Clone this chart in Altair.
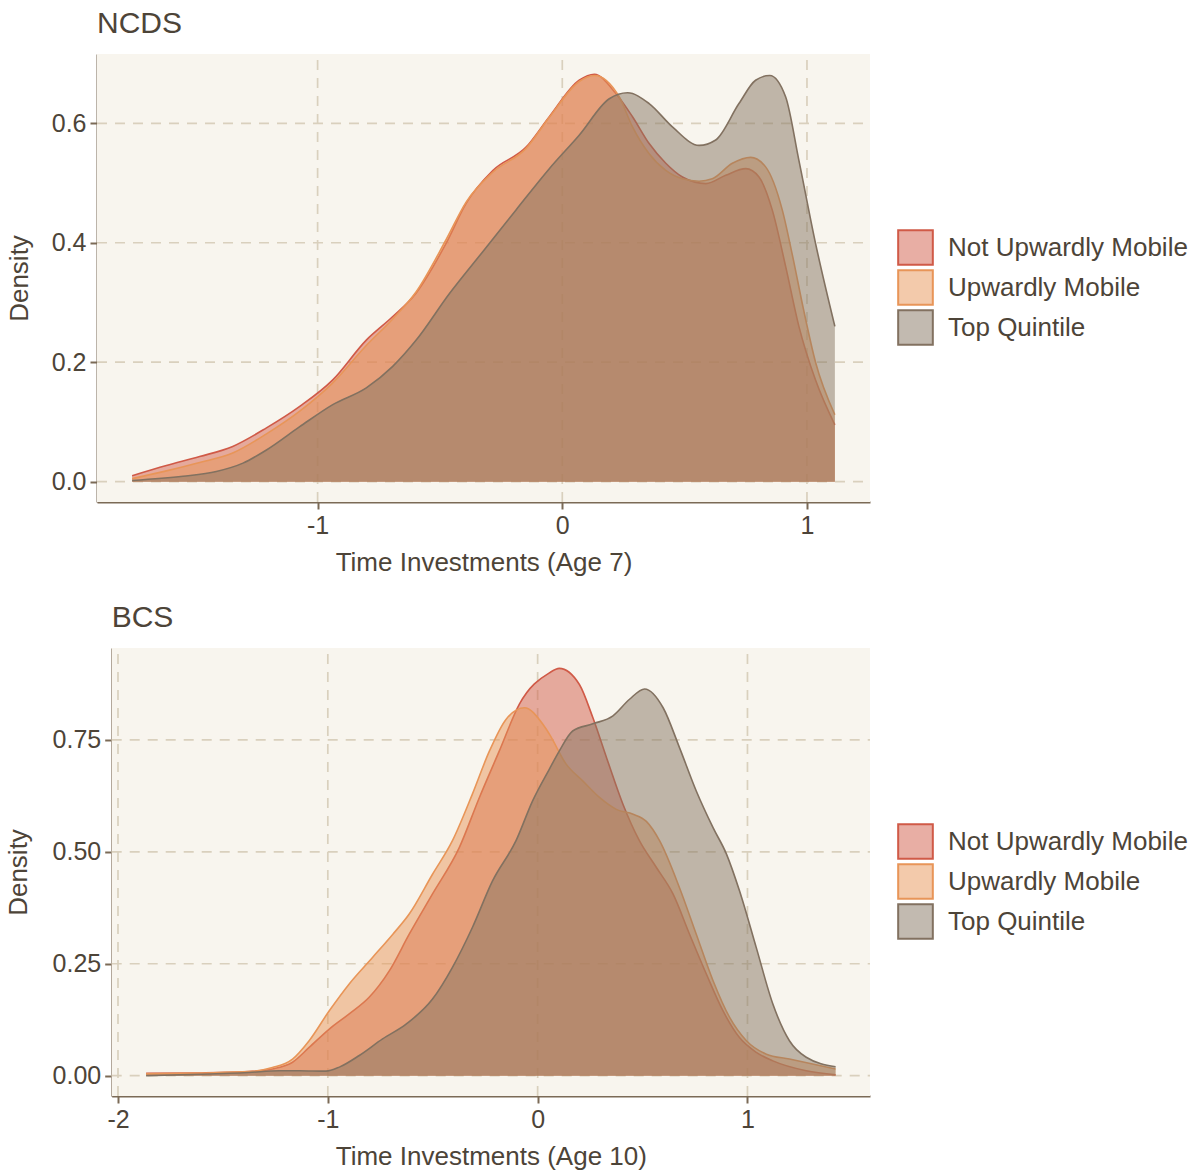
import altair as alt
import pandas as pd

# Group names and colours (fills are drawn at half opacity, outlines opaque)
GROUPS = ["Not Upwardly Mobile", "Upwardly Mobile", "Top Quintile"]
LINE_COLORS = ["#d05a47", "#e89558", "#827160"]
FILL_COLORS = ["rgba(210,93,74,0.5)", "rgba(232,149,88,0.5)", "rgba(134,117,98,0.5)"]

# ---- NCDS: density of time investments at age 7 ----
ncds_not_x = [-1.758, -1.618, -1.482, -1.347, -1.209, -1.073, -0.939, -0.801, -0.694, -0.597,
              -0.475, -0.393, -0.284, -0.148, -0.053, 0.069, 0.131, 0.219, 0.287, 0.355,
              0.423, 0.491, 0.587, 0.668, 0.750, 0.804, 0.858, 0.913, 0.967, 1.035, 1.114]
ncds_not_y = [0.010, 0.027, 0.042, 0.059, 0.090, 0.126, 0.170, 0.237, 0.276, 0.316,
              0.399, 0.466, 0.521, 0.560, 0.611, 0.672, 0.682, 0.650, 0.611, 0.566,
              0.533, 0.510, 0.499, 0.513, 0.524, 0.510, 0.455, 0.360, 0.260, 0.170, 0.095]

ncds_up_x = [-1.758, -1.618, -1.482, -1.347, -1.209, -1.073, -0.939, -0.801, -0.694, -0.597,
             -0.475, -0.393, -0.284, -0.148, -0.053, 0.069, 0.131, 0.233, 0.287, 0.355,
             0.423, 0.491, 0.559, 0.613, 0.695, 0.770, 0.831, 0.899, 0.940, 0.985, 1.035, 1.114]
ncds_up_y = [0.005, 0.018, 0.032, 0.048, 0.080, 0.118, 0.165, 0.228, 0.272, 0.318,
             0.405, 0.468, 0.518, 0.558, 0.610, 0.670, 0.680, 0.644, 0.594, 0.549,
             0.521, 0.507, 0.503, 0.507, 0.533, 0.543, 0.527, 0.455, 0.380, 0.290, 0.200, 0.112]

ncds_top_x = [-1.758, -1.550, -1.414, -1.305, -1.209, -1.073, -0.938, -0.801, -0.693, -0.597,
              -0.461, -0.325, -0.189, -0.053, 0.069, 0.192, 0.267, 0.355, 0.450, 0.559,
              0.627, 0.722, 0.790, 0.848, 0.913, 0.967, 1.035, 1.114]
ncds_top_y = [0.002, 0.009, 0.017, 0.031, 0.053, 0.092, 0.129, 0.157, 0.193, 0.237,
              0.315, 0.385, 0.455, 0.524, 0.580, 0.641, 0.651, 0.633, 0.594, 0.563,
              0.572, 0.633, 0.672, 0.680, 0.644, 0.538, 0.399, 0.260]

# ---- BCS: density of time investments at age 10 ----
bcs_not_x = [-1.866, -1.600, -1.376, -1.264, -1.168, -1.089, -0.993, -0.898, -0.803, -0.707,
             -0.612, -0.501, -0.373, -0.278, -0.183, -0.087, 0.056, 0.103, 0.199, 0.263,
             0.328, 0.407, 0.485, 0.566, 0.645, 0.724, 0.804, 0.883, 0.962, 1.042,
             1.121, 1.280, 1.420]
bcs_not_y = [0.005, 0.006, 0.009, 0.015, 0.030, 0.063, 0.104, 0.138, 0.175, 0.234,
             0.316, 0.406, 0.510, 0.621, 0.725, 0.830, 0.900, 0.910, 0.874, 0.800,
             0.711, 0.606, 0.525, 0.465, 0.406, 0.316, 0.227, 0.145, 0.085, 0.052,
             0.033, 0.011, 0.002]

bcs_up_x = [-1.866, -1.600, -1.376, -1.264, -1.168, -1.089, -0.993, -0.898, -0.787, -0.690,
            -0.612, -0.501, -0.406, -0.311, -0.230, -0.151, -0.063, 0.025, 0.056, 0.136,
            0.216, 0.296, 0.375, 0.455, 0.518, 0.581, 0.676, 0.756, 0.836, 0.915,
            0.995, 1.090, 1.200, 1.420]
bcs_up_y = [0.004, 0.006, 0.009, 0.018, 0.037, 0.078, 0.145, 0.205, 0.264, 0.316,
            0.361, 0.450, 0.525, 0.629, 0.725, 0.796, 0.822, 0.785, 0.763, 0.696,
            0.658, 0.621, 0.595, 0.584, 0.568, 0.525, 0.420, 0.316, 0.212, 0.130,
            0.078, 0.048, 0.037, 0.015]

bcs_top_x = [-1.866, -1.600, -1.376, -1.232, -1.136, -1.009, -0.945, -0.850, -0.739, -0.627,
             -0.501, -0.406, -0.311, -0.215, -0.103, -0.024, 0.056, 0.103, 0.167, 0.263,
             0.359, 0.438, 0.510, 0.598, 0.676, 0.756, 0.836, 0.900, 0.962, 1.042,
             1.121, 1.200, 1.280, 1.420]
bcs_top_y = [0.000, 0.003, 0.007, 0.011, 0.011, 0.010, 0.019, 0.045, 0.082, 0.115,
             0.171, 0.242, 0.331, 0.435, 0.525, 0.614, 0.685, 0.725, 0.770, 0.786,
             0.804, 0.841, 0.864, 0.822, 0.733, 0.636, 0.554, 0.495, 0.413, 0.286,
             0.160, 0.078, 0.041, 0.020]

TEXT = "#4d4438"
AXIS = "#7b6a56"
PANEL = "#f8f5ee"
GRID = "#d9d0bd"
FONT = "Liberation Sans"
PANEL_W = 773
PANEL_H = 448


def frame(series):
    parts = []
    for g, (xs, ys) in zip(GROUPS, series):
        parts.append(pd.DataFrame({"x": xs, "y": ys, "group": g}))
    return pd.concat(parts, ignore_index=True)


def panel(title, xtitle, series, xdom, ydom, xticks, yticks, yfmt, inset, extent):
    df = frame(series)
    xscale = alt.Scale(domain=xdom, nice=False, zero=False, range=[inset, PANEL_W])
    yscale = alt.Scale(domain=ydom, nice=False, zero=False)
    legend = alt.Legend(title=None, orient="none", legendX=800, legendY=175)
    fill = alt.Fill("group:N", scale=alt.Scale(domain=GROUPS, range=FILL_COLORS), legend=legend)
    stroke = alt.Stroke("group:N", scale=alt.Scale(domain=GROUPS, range=LINE_COLORS), legend=legend)
    x = alt.X(
        "x:Q", title=xtitle, scale=xscale,
        axis=alt.Axis(values=xticks, grid=False,
                      labelExpr="replace(datum.label, '\u2212', '-')"),
    )
    y = alt.Y(
        "y:Q", title="Density", scale=yscale,
        axis=alt.Axis(values=yticks, format=yfmt, grid=False, offset=-inset,
                      minExtent=extent, maxExtent=extent, titlePadding=10),
    )

    # panel background and dashed grid, drawn through the same scales
    bg = alt.Chart(pd.DataFrame({"x": [xdom[0]], "x2": [xdom[1]],
                                 "y": [ydom[0]], "y2": [ydom[1]]}))
    layers = [bg.mark_rect(fill=PANEL).encode(x=x, x2="x2:Q", y=y, y2="y2:Q")]
    hgrid = pd.DataFrame({"y": yticks, "x": xdom[0], "x2": xdom[1]})
    vgrid = pd.DataFrame({"x": xticks, "y": ydom[0], "y2": ydom[1]})
    layers.append(alt.Chart(hgrid).mark_rule(color=GRID, strokeWidth=1.7, strokeDash=[10, 8])
                  .encode(x=x, x2="x2:Q", y=y))
    layers.append(alt.Chart(vgrid).mark_rule(color=GRID, strokeWidth=1.7, strokeDash=[10, 8])
                  .encode(x=x, y=y, y2="y2:Q"))

    for g in GROUPS:
        base = alt.Chart(df).transform_filter(alt.datum.group == g)
        layers.append(base.mark_area(interpolate="monotone").encode(x=x, y=y, fill=fill))
        layers.append(base.mark_line(interpolate="monotone", strokeWidth=1.6)
                      .encode(x=x, y=y, stroke=stroke))
    return alt.layer(*layers).properties(
        width=PANEL_W,
        height=PANEL_H,
        title=alt.TitleParams(title, anchor="start", frame="group", fontSize=30, dx=inset,
                              font=FONT, color=TEXT, fontWeight="normal", offset=14),
    )


top = panel("NCDS", "Time Investments (Age 7)",
            [(ncds_not_x, ncds_not_y), (ncds_up_x, ncds_up_y), (ncds_top_x, ncds_top_y)],
            [-1.9016, 1.2576], [-0.0341, 0.716], [-1, 0, 1], [0, 0.2, 0.4, 0.6], ".1f",
            0, 55)

bottom = panel("BCS", "Time Investments (Age 10)",
               [(bcs_not_x, bcs_not_y), (bcs_up_x, bcs_up_y), (bcs_top_x, bcs_top_y)],
               [-2.030, 1.584], [-0.0455, 0.9555], [-2, -1, 0, 1], [0, 0.25, 0.5, 0.75], ".2f",
               14.7, 70)

chart = (
    alt.vconcat(top, bottom, spacing=28)
    .resolve_scale(fill="independent", stroke="independent")
    .resolve_legend(fill="independent", stroke="independent")
    .properties(padding={"left": 5, "top": 9, "right": 5, "bottom": 5})
    .configure_view(strokeWidth=0)
    .configure_axis(
        domainColor=AXIS, domainWidth=2, tickColor=AXIS, tickWidth=2, tickSize=7,
        labelFont=FONT, labelFontSize=25, labelColor=TEXT, labelPadding=4,
        titleFont=FONT, titleFontSize=26, titleColor=TEXT, titleFontWeight="normal",
    )
    .configure_axisX(titlePadding=11)
    .configure_legend(
        labelFont=FONT, labelFontSize=26, labelColor=TEXT, symbolType="square",
        symbolSize=1200, symbolStrokeWidth=2, labelOffset=14, rowPadding=-7,
        labelLimit=400,
    )
)

chart.save("out.html", embed_options={"renderer": "svg", "actions": False})
